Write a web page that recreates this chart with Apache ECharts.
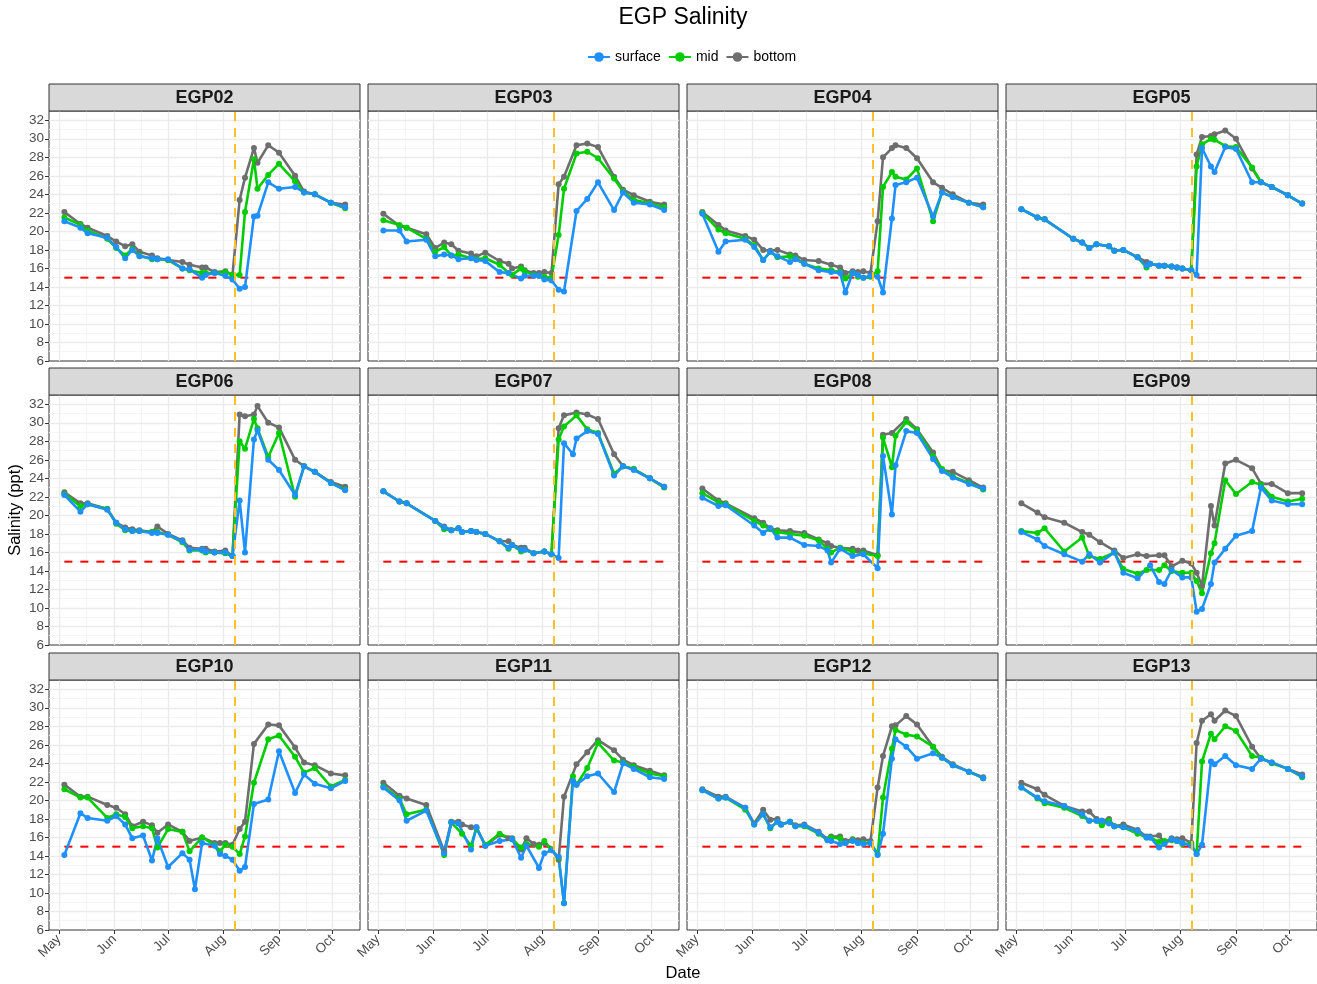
<!DOCTYPE html>
<html><head><meta charset="utf-8">
<script src="https://cdn.jsdelivr.net/npm/echarts@6/dist/echarts.min.js"></script>
<style>html,body{margin:0;padding:0;background:#fff}#c{width:1317px;height:984px}</style>
</head><body><div id="c"></div>
<script>
const YEAR = 2021;
const stations = ['EGP02','EGP03','EGP04','EGP05','EGP06','EGP07','EGP08','EGP09','EGP10','EGP11','EGP12','EGP13'];
const seriesNames = ['surface','mid','bottom'];
const seriesColors = ['#1e90ff','#00cd00','#6e6e6e'];
// rows: [date MM-DD, surface, mid, bottom]
const EGP02 = [
 ['05-04',21.1,21.5,22.1],['05-13',20.4,20.7,20.8],['05-17',19.8,20.1,20.4],['05-28',19.3,19.2,19.5],
 ['06-02',18.3,18.2,18.9],['06-07',17.1,17.4,18.4],['06-11',18.0,18.1,18.6],['06-15',17.3,17.4,17.8],
 ['06-22',17.1,17.0,17.4],['06-25',17.0,17.0,17.1],['07-01',17.0,16.9,16.9],['07-09',16.0,16.0,16.7],
 ['07-13',15.9,15.8,16.4],['07-20',15.0,15.5,16.1],['07-22',15.3,15.5,16.1],['07-27',15.5,15.5,15.6],
 ['08-02',15.2,15.6,15.7],['08-06',14.8,15.3,15.3],['08-10',13.8,15.3,23.4],['08-13',14.0,22.1,25.8],
 ['08-18',21.6,27.8,29.0],['08-20',21.7,24.6,27.4],['08-26',25.3,26.1,29.3],['09-01',24.6,27.3,28.5],
 ['09-10',24.8,25.4,26.0],['09-15',24.2,24.2,24.3],['09-21',24.0,24.0,24.0],['09-30',23.1,23.1,23.1],
 ['10-08',22.6,22.5,22.9]];
const EGP03 = [
 ['05-04',20.1,21.2,21.9],['05-13',20.1,20.7,20.6],['05-17',18.9,20.4,20.4],['05-28',19.1,19.2,19.7],
 ['06-02',17.3,17.8,18.2],['06-07',17.5,18.3,18.8],['06-11',17.4,17.4,18.6],['06-15',17.0,17.5,17.9],
 ['06-22',17.1,17.1,17.6],['06-25',16.9,17.0,17.3],['06-30',16.8,17.1,17.7],['07-08',15.6,16.4,16.8],
 ['07-13',15.5,15.5,16.5],['07-15',null,15.3,16.0],['07-20',14.9,16.0,16.2],['07-22',15.2,15.7,15.8],
 ['07-27',15.2,15.3,15.5],['07-30',15.2,15.2,15.5],['08-02',14.8,15.1,15.6],['08-06',14.7,15.0,15.5],
 ['08-10',13.7,19.6,25.1],['08-13',13.5,24.6,25.9],['08-20',22.2,28.4,29.3],['08-26',23.5,28.6,29.5],
 ['09-01',25.3,27.9,29.1],['09-10',22.3,25.7,25.9],['09-15',24.2,24.3,24.5],['09-21',23.1,23.4,23.9],
 ['09-30',22.9,23.0,23.2],['10-08',22.3,22.6,22.9]];
const EGP04 = [
 ['05-04',21.9,22.0,22.1],['05-13',17.8,20.2,20.7],['05-17',18.9,19.8,20.1],['05-28',19.1,19.2,19.5],
 ['06-02',18.3,18.5,19.1],['06-07',16.9,16.9,18.0],['06-11',17.8,17.8,17.9],['06-15',17.3,17.2,18.0],
 ['06-22',16.7,17.3,17.5],['06-25',17.0,17.1,17.4],['06-30',16.5,16.5,16.9],['07-08',15.8,16.0,16.8],
 ['07-15',15.6,15.8,16.4],['07-20',15.5,15.6,16.1],['07-23',13.4,14.9,15.5],['07-27',15.5,15.5,15.7],
 ['07-30',15.3,15.1,15.6],['08-02',15.0,15.0,15.7],['08-06',15.2,15.1,15.5],['08-10',15.1,15.7,21.1],
 ['08-13',13.4,24.8,28.0],['08-18',21.4,26.4,29.0],['08-20',25.0,25.9,29.3],['08-26',25.3,25.6,29.0],
 ['09-01',25.8,26.8,27.9],['09-10',21.6,21.1,25.3],['09-15',24.2,24.2,24.7],['09-21',23.7,23.7,24.0],
 ['09-30',23.1,23.1,23.1],['10-08',22.6,22.6,22.9]];
const EGP05 = [
 ['05-04',22.4,22.4,22.4],['05-13',21.5,21.5,21.5],['05-17',21.3,21.3,21.3],['06-02',19.2,19.2,19.2],
 ['06-07',18.8,18.8,18.8],['06-11',18.2,18.2,18.2],['06-15',18.6,18.6,18.6],['06-22',18.4,18.4,18.4],
 ['06-25',17.9,17.9,17.9],['06-30',18.0,18.0,18.0],['07-08',17.2,17.2,17.2],['07-13',16.3,16.1,16.7],
 ['07-15',16.5,16.5,16.5],['07-20',16.3,16.3,16.3],['07-23',16.3,16.3,16.3],['07-27',16.2,16.2,16.2],
 ['07-30',16.1,16.1,16.1],['08-02',16.0,16.0,16.0],['08-07',15.8,15.8,15.8],['08-10',15.3,27.0,28.3],
 ['08-13',29.0,29.4,30.2],['08-18',27.0,30.0,30.3],['08-20',26.4,29.9,30.5],['08-26',29.1,29.2,30.9],
 ['09-01',28.9,29.1,30.0],['09-10',25.3,26.9,26.8],['09-15',25.3,25.3,25.3],['09-21',24.8,24.8,24.8],
 ['09-30',23.9,23.9,23.9],['10-08',23.0,23.0,23.0]];
const EGP06 = [
 ['05-04',22.2,22.3,22.5],['05-13',20.4,21.0,21.3],['05-17',21.2,21.2,21.3],['05-28',20.6,20.7,20.7],
 ['06-02',19.2,19.1,19.2],['06-07',18.5,18.4,18.7],['06-11',18.3,18.3,18.5],['06-15',18.3,18.3,18.4],
 ['06-22',18.1,18.2,18.2],['06-25',18.1,18.2,18.8],['07-01',17.9,17.9,18.0],['07-09',17.2,17.1,17.3],
 ['07-13',16.3,16.2,16.5],['07-20',16.3,16.2,16.4],['07-22',16.1,16.0,16.4],['07-27',16.0,16.0,16.1],
 ['08-02',16.0,15.9,16.2],['08-06',15.6,15.6,15.6],['08-10',21.6,28.0,30.9],['08-13',16.0,27.2,30.7],
 ['08-18',28.2,30.4,30.9],['08-20',29.2,29.4,31.8],['08-26',26.0,26.3,30.0],['09-01',24.9,28.9,29.5],
 ['09-10',22.2,22.0,26.0],['09-15',25.3,25.3,25.3],['09-21',24.7,24.7,24.7],['09-30',23.5,23.5,23.6],
 ['10-08',22.7,22.8,23.1]];
const EGP07 = [
 ['05-04',22.6,22.6,22.6],['05-13',21.5,21.5,21.5],['05-17',21.3,21.3,21.3],['06-02',19.4,19.4,19.4],
 ['06-07',18.7,18.5,18.8],['06-11',18.4,18.4,18.4],['06-15',18.6,18.6,18.6],['06-17',18.2,18.2,18.2],
 ['06-22',18.3,18.3,18.3],['06-25',18.2,18.2,18.2],['06-30',18.0,18.0,18.0],['07-08',17.2,17.2,17.2],
 ['07-13',16.5,16.4,17.2],['07-15',16.8,16.8,16.8],['07-20',16.3,16.1,16.5],['07-22',16.3,16.3,16.5],
 ['07-27',15.9,15.9,15.9],['08-02',16.1,16.1,16.1],['08-06',15.8,15.8,15.8],['08-10',15.4,28.2,29.4],
 ['08-13',27.8,29.6,30.8],['08-18',26.6,null,null],['08-20',28.3,30.8,31.1],['08-26',29.1,29.3,30.9],
 ['09-01',28.8,28.9,30.4],['09-10',24.3,24.5,26.6],['09-15',25.3,25.3,25.3],['09-21',24.9,25.0,25.0],
 ['09-30',24.0,24.0,24.0],['10-08',23.1,23.0,23.1]];
const EGP08 = [
 ['05-04',21.9,22.4,22.9],['05-13',21.0,21.4,21.6],['05-17',21.1,21.2,21.3],['06-02',18.9,19.4,19.7],
 ['06-07',18.1,18.9,19.2],['06-11',18.6,18.5,18.6],['06-15',17.6,18.2,18.4],['06-22',17.6,18.0,18.3],
 ['06-30',16.8,17.8,18.1],['07-08',16.7,17.3,17.4],['07-13',16.2,16.4,17.0],['07-15',14.9,16.0,16.7],
 ['07-20',16.4,16.5,16.5],['07-27',15.6,16.1,16.4],['07-30',null,null,16.2],['08-02',15.8,15.9,16.2],
 ['08-10',14.3,15.6,15.7],['08-13',26.4,28.4,28.7],['08-18',20.1,25.2,28.9],['08-20',25.4,28.6,null],
 ['08-26',29.1,30.1,30.4],['09-01',28.9,29.2,29.3],['09-10',26.1,26.4,26.8],['09-15',24.8,25.0,24.9],
 ['09-21',24.1,24.2,24.7],['09-30',23.4,23.5,23.8],['10-08',22.9,22.8,23.0]];
const EGP09 = [
 ['05-04',18.2,18.3,21.3],['05-13',17.4,18.1,20.3],['05-17',16.7,18.6,19.8],['05-28',15.8,16.1,19.2],
 ['06-07',15.0,17.6,18.2],['06-11',15.8,15.6,17.9],['06-17',14.9,15.3,17.1],['06-25',16.0,16.0,16.2],
 ['06-30',13.8,14.2,15.4],['07-08',13.2,13.7,15.8],['07-13',null,14.1,15.6],['07-15',14.6,null,null],
 ['07-20',12.8,14.1,15.7],['07-23',12.6,14.6,15.7],['07-27',14.1,14.0,14.5],['08-02',13.3,13.8,15.1],
 ['08-07',13.3,13.8,14.8],['08-10',9.6,12.9,13.8],['08-13',9.9,11.6,12.4],['08-18',12.6,15.9,21.0],
 ['08-20',14.9,17.0,18.9],['08-26',16.4,23.8,25.6],['09-01',17.8,22.3,26.0],['09-10',18.3,23.6,25.1],
 ['09-15',23.0,23.3,23.4],['09-21',21.6,22.0,23.4],['09-30',21.2,21.5,22.4],['10-08',21.2,21.8,22.4]];
const EGP10 = [
 ['05-04',14.1,21.2,21.7],['05-13',18.6,20.3,20.4],['05-17',18.1,20.3,20.4],['05-28',17.8,18.1,19.5],
 ['06-02',18.3,18.5,19.2],['06-07',17.4,18.2,18.5],['06-11',15.9,17.0,17.2],['06-17',16.2,17.2,17.7],
 ['06-22',13.5,17.0,17.3],['06-25',15.9,14.9,16.5],['07-01',12.8,16.9,17.4],['07-09',14.3,16.6,16.6],
 ['07-13',13.6,14.5,15.6],['07-16',10.4,null,null],['07-20',15.4,16.0,16.0],['07-27',15.1,15.2,15.4],
 ['07-30',14.2,14.5,15.4],['08-02',14.0,15.2,15.4],['08-06',13.6,15.0,15.2],['08-10',12.4,14.2,16.9],
 ['08-13',12.8,16.1,17.7],['08-18',19.6,21.9,26.1],['08-26',20.1,26.6,28.2],['09-01',25.3,27.0,28.1],
 ['09-10',20.8,24.7,25.7],['09-15',22.8,23.0,24.1],['09-21',21.8,23.5,23.8],['09-30',21.3,21.5,22.9],
 ['10-08',22.1,22.2,22.7]];
const EGP11 = [
 ['05-04',21.4,21.5,21.9],['05-13',20.0,20.2,20.5],['05-17',17.8,18.5,20.2],['05-28',18.9,19.0,19.5],
 ['06-07',14.3,14.1,14.5],['06-11',17.6,17.6,17.7],['06-15',17.5,null,17.7],['06-17',null,16.4,17.4],
 ['06-22',14.7,15.1,17.1],['06-25',17.1,17.0,17.1],['06-30',15.1,15.2,15.1],['07-08',15.6,16.4,16.3],
 ['07-13',null,null,15.9],['07-15',15.8,15.8,15.9],['07-20',13.8,14.9,14.7],['07-23',15.1,15.3,15.9],
 ['07-27',null,null,15.3],['07-30',12.7,15.0,15.2],['08-02',14.3,15.6,15.4],['08-06',14.6,14.7,14.7],
 ['08-10',13.9,13.8,13.6],['08-13',8.9,8.9,20.4],['08-18',22.1,22.6,null],['08-20',21.7,21.7,23.9],
 ['08-26',22.6,23.5,25.2],['09-01',22.9,26.2,26.5],['09-10',20.9,24.3,25.4],['09-15',24.0,24.1,24.4],
 ['09-21',23.4,23.6,23.8],['09-30',22.5,22.9,23.2],['10-08',22.3,22.6,22.7]];
const EGP12 = [
 ['05-04',21.1,21.1,21.2],['05-13',20.2,20.2,20.4],['05-17',20.3,20.3,20.4],['05-28',19.2,19.0,19.2],
 ['06-02',17.4,17.4,17.5],['06-07',18.5,18.5,19.0],['06-11',17.1,17.0,17.9],['06-15',17.7,17.7,18.0],
 ['06-17',17.4,17.4,17.4],['06-22',17.7,17.7,17.7],['06-25',17.2,17.2,17.3],['06-30',17.3,17.2,17.4],
 ['07-08',16.5,16.4,16.6],['07-13',15.7,15.7,15.8],['07-15',15.6,16.0,16.1],['07-20',15.3,15.9,16.1],
 ['07-23',15.4,15.4,15.6],['07-27',15.6,15.7,15.8],['07-30',15.4,15.4,15.7],['08-02',15.3,15.4,15.8],
 ['08-06',15.4,15.4,15.6],['08-10',14.1,14.2,21.4],['08-13',16.4,20.3,24.8],['08-18',24.5,25.6,28.0],
 ['08-20',26.6,27.6,28.1],['08-26',25.8,27.1,29.1],['09-01',24.5,26.9,28.2],['09-10',25.1,25.8,25.8],
 ['09-15',24.6,24.6,24.7],['09-21',23.8,23.8,23.9],['09-30',23.1,23.1,23.1],['10-08',22.4,22.4,22.5]];
const EGP13 = [
 ['05-04',21.4,21.4,21.9],['05-13',20.3,20.2,21.2],['05-17',19.9,19.7,20.6],['05-28',19.4,19.2,19.4],
 ['06-07',18.5,18.3,18.8],['06-11',17.8,17.8,18.8],['06-15',17.8,17.8,18.0],['06-18',17.8,17.3,17.8],
 ['06-22',17.5,17.8,18.0],['06-25',17.2,17.2,17.2],['06-30',17.1,17.1,17.4],['07-08',16.7,16.4,16.8],
 ['07-13',16.0,16.0,16.1],['07-15',16.0,16.0,16.1],['07-20',14.9,15.5,16.2],['07-23',15.3,15.6,15.4],
 ['07-27',15.8,15.7,15.9],['07-30',15.6,15.6,15.8],['08-02',15.4,15.3,15.9],['08-07',15.1,15.3,15.4],
 ['08-10',14.2,14.2,26.2],['08-13',15.2,24.2,28.6],['08-18',24.2,27.2,29.3],['08-20',23.9,26.6,28.6],
 ['08-26',24.8,28.0,29.7],['09-01',23.8,27.5,29.1],['09-10',23.4,24.8,25.8],['09-15',24.5,24.6,24.5],
 ['09-21',24.1,24.0,24.1],['09-30',23.4,23.4,23.4],['10-08',22.6,22.5,22.8]];
const stationData = [EGP02,EGP03,EGP04,EGP05,EGP06,EGP07,EGP08,EGP09,EGP10,EGP11,EGP12,EGP13];

const yTicks = [6,8,10,12,14,16,18,20,22,24,26,28,30,32];
const yMinorTicks = [7,9,11,13,15,17,19,21,23,25,27,29,31];
const monthTicks = ['05-01','06-01','07-01','08-01','09-01','10-01'];
const monthMinorTicks = ['05-16 12:00','06-16 00:00','07-16 12:00','08-16 12:00','09-16 00:00'];
const monthLabels = ['May','Jun','Jul','Aug','Sep','Oct'];
const thresholdValue = 15;
const thresholdRange = ['05-04','10-08'];
const eventDate = '08-07 12:00';
const xRange = ['04-25 10:00','10-16 07:00'];
const yRange = [6, 33];

function t(md){ return echarts.time.parse(YEAR + '-' + md).getTime(); }

const FONT = '"Liberation Sans", Arial, sans-serif';
const colLeft = [49, 368, 687, 1006];
const rowTop = [111, 395, 680];
const PW = 311, PH = 250, SH = 27;
const MAJOR = {color: '#ebebeb', width: 1.3, type: 'solid'};
const MINOR = {color: '#f4f4f4', width: 0.9, type: 'solid'};

const gridLineData = [].concat(
  monthMinorTicks.map(d => ({xAxis: t(d), lineStyle: MINOR})),
  yMinorTicks.map(v => ({yAxis: v, lineStyle: MINOR})),
  monthTicks.map(d => ({xAxis: t(d), lineStyle: MAJOR})),
  yTicks.slice(1).map(v => ({yAxis: v, lineStyle: MAJOR}))
);

const grids=[], xAxes=[], yAxes=[], series=[], graphics=[];
stations.forEach((name, i) => {
  const col = i % 4, row = Math.floor(i / 4);
  const left = colLeft[col], top = rowTop[row];
  grids.push({left, top, width: PW, height: PH, show: true, borderColor: '#333', borderWidth: 1, backgroundColor: '#fff'});
  const bottomRow = row === 2, leftCol = col === 0;
  xAxes.push({
    type: 'value', gridIndex: i, min: t(xRange[0]), max: t(xRange[1]),
    axisLine: {show: false},
    axisTick: {show: bottomRow, length: 4, lineStyle: {color: '#333'}, customValues: monthTicks.map(t)},
    axisLabel: {show: bottomRow, customValues: monthTicks.map(t), rotate: 45, color: '#4d4d4d', fontSize: 13.5, fontFamily: FONT, margin: 7,
      formatter: v => monthLabels[new Date(v).getMonth() - 4] || ''},
    splitLine: {show: false}
  });
  yAxes.push({
    type: 'value', gridIndex: i, min: yRange[0], max: yRange[1], interval: 2,
    axisLine: {show: false},
    axisTick: {show: leftCol, length: 4, lineStyle: {color: '#333'}, customValues: yTicks},
    axisLabel: {show: leftCol, customValues: yTicks, color: '#4d4d4d', fontSize: 13.5, fontFamily: FONT, margin: 5},
    splitLine: {show: false}
  });
  series.push({
    name: 'threshold', type: 'line', xAxisIndex: i, yAxisIndex: i, silent: true, symbol: 'none',
    data: thresholdRange.map(d => [t(d), thresholdValue]),
    lineStyle: {color: '#ff0000', width: 2, type: [8, 8]}, z: 2,
    markLine: {silent: true, symbol: 'none', label: {show: false}, animation: false, z: 1,
      emphasis: {disabled: true}, data: gridLineData}
  });
  const rows = stationData[i];
  [2, 1, 0].forEach(k => {
    const s = {
      name: seriesNames[k], type: 'line', xAxisIndex: i, yAxisIndex: i,
      data: rows.map(r => [t(r[0]), r[k + 1]]), connectNulls: true,
      symbol: 'circle', symbolSize: 6, showSymbol: true,
      itemStyle: {color: seriesColors[k]}, lineStyle: {color: seriesColors[k], width: 2.6}, z: 3
    };
    if (k === 0) {
      s.markLine = {silent: true, symbol: 'none', label: {show: false}, animation: false, z: 5,
        lineStyle: {color: '#fdbf2d', width: 2, type: [9, 7]},
        data: [{xAxis: t(eventDate)}]};
    }
    series.push(s);
  });
  graphics.push({type: 'rect', shape: {x: left, y: top - SH, width: PW, height: SH},
    style: {fill: '#d9d9d9', stroke: '#333', lineWidth: 1}, z: 10});
  graphics.push({type: 'text', x: left + PW / 2, y: top - SH / 2 + 0.5,
    style: {text: name, fill: '#1a1a1a', font: 'bold 18px ' + FONT, align: 'center', verticalAlign: 'middle'}, z: 11});
});
graphics.push({type: 'text', x: 683, y: 18, style: {text: 'EGP Salinity', fill: '#000', font: '23px ' + FONT, align: 'center', verticalAlign: 'middle'}});
graphics.push({type: 'text', x: 683, y: 973, style: {text: 'Date', fill: '#000', font: '16.5px ' + FONT, align: 'center', verticalAlign: 'middle'}});
graphics.push({type: 'text', x: 15, y: 510, rotation: Math.PI / 2, style: {text: 'Salinity (ppt)', fill: '#000', font: '16.5px ' + FONT, align: 'center', verticalAlign: 'middle'}});

const chart = echarts.init(document.getElementById('c'), null, {renderer: 'canvas'});
chart.setOption({
  animation: false,
  backgroundColor: '#fff',
  legend: {data: seriesNames, left: 582, top: 45, itemWidth: 22, itemHeight: 12, itemGap: 7,
    textStyle: {fontSize: 14, color: '#000', fontFamily: FONT}},
  grid: grids, xAxis: xAxes, yAxis: yAxes, series: series, graphic: graphics
});
</script></body></html>
